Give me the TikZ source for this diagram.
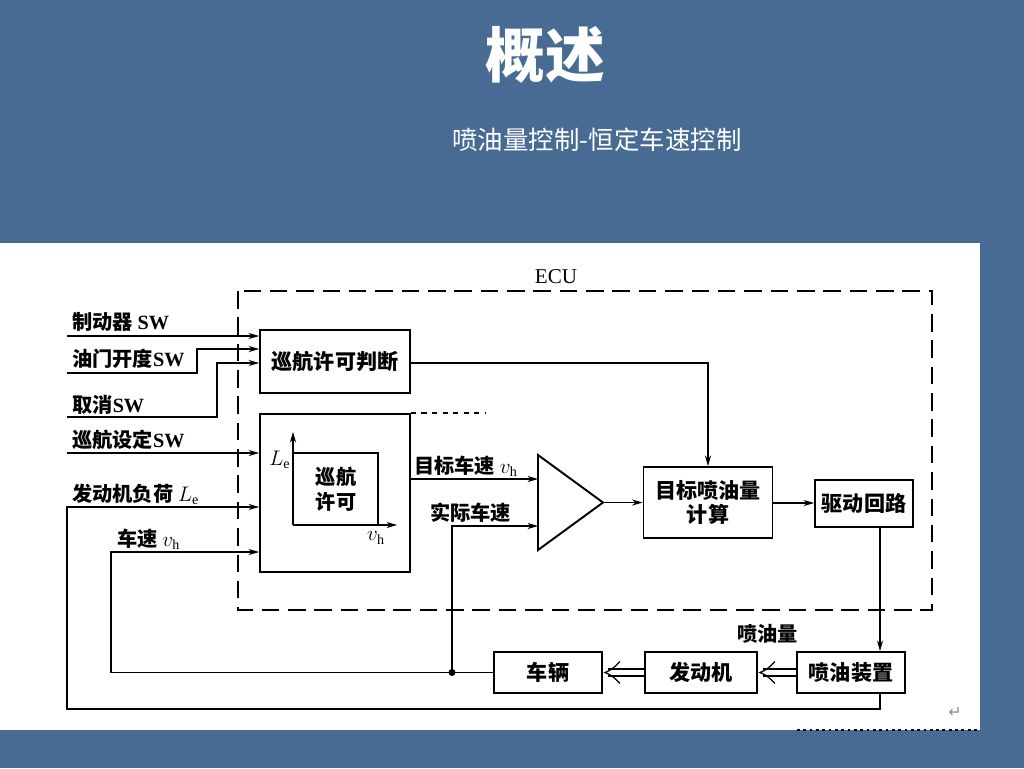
\documentclass[tikz,border=0pt]{standalone}
\usepackage{fontspec}
\setmainfont{Noto Sans CJK SC}
\newfontfamily\lat{Liberation Serif}
\newfontfamily\symf{DejaVu Sans}
\usetikzlibrary{arrows.meta,positioning}
\definecolor{slide}{RGB}{72,107,148}
% upright roman subscript for the signal names
\newcommand\lsub[1]{\hbox{\lat\mdseries\fontsize{8}{9}\selectfont #1}}

\begin{document}
\begin{tikzpicture}[%
    x=0.02cm, y=-0.02cm,        % one unit is one pixel of the slide
    >={Stealth[length=6pt,width=3.5pt]},
    every node/.style={inner sep=0pt},
    ]
% -------------------------------------------------
% A few box styles
\tikzset{
  node font=\fontsize{12}{14}\selectfont\bfseries,
  base/.style={draw, line width=1.1pt, align=center},
  proc/.style={base, rectangle, minimum width=3cm},
  % input and signal labels
  lbl/.style={anchor=west, node font=\fontsize{11.5}{13}\selectfont\bfseries},
  % -------------------------------------------------
  % Connector line styles
  norm/.style={->, draw, line width=0.6pt},
  wire/.style={draw, line width=0.6pt},
  dbl/.style={draw, double, double distance=3.4pt, line width=0.6pt, shorten >=3pt},
  % open head of the double arrows
  chev/.pic={\draw [line width=0.7pt] (17,-11) .. controls (9,-3) .. (2,0) .. controls (9,3) .. (17,11);},
  ecu/.style={draw, dash pattern=on 10pt off 5pt, line width=0.9pt},
}
% -------------------------------------------------
% Slide background and title
\useasboundingbox (0,0) rectangle (1024,768);
\fill [slide] (0,0) rectangle (1024,768);
\fill [white] (0,243) rectangle (980,730);
\node [text=white, node font=\fontsize{34}{38}\selectfont\bfseries] (ttl) at (545,55) {概述};
\node [text=white, node font=\fontsize{14.5}{16}\selectfont] (sub) at (597,140) {喷油量控制-恒定车速控制};
% -------------------------------------------------
% ECU frame
\path [ecu] (238,291) rectangle (932,610);
\node [node font=\fontsize{12}{14}\selectfont\lat] (ecu) at (556,277) {ECU};
% -------------------------------------------------
% Start by placing the boxes
\node [proc, minimum height=1.26cm] (jud) at (335,361.5) {巡航许可判断};
\node [proc, minimum height=3.16cm] (perm) at (335,493) {};
\node [base, minimum width=2.58cm, minimum height=1.42cm] (tgt) at (708,502.5) {目标喷油量\\计算};
\node [base, minimum width=1.96cm, minimum height=0.94cm] (drv) at (864,503.5) {驱动回路};
\node [base, minimum width=2.16cm, minimum height=0.82cm] (inj) at (851,672.5) {喷油装置};
\node [base, minimum width=2.24cm, minimum height=0.82cm] (eng) at (701,672.5) {发动机};
\node [base, minimum width=2.16cm, minimum height=0.82cm] (veh) at (548,672.5) {车辆};
% comparator
\coordinate (cmpA) at (538,455);
\coordinate (cmpB) at (538,550);
\coordinate (cmpT) at (603,502.5);
\draw [line width=1.1pt] (cmpA) -- (cmpT) -- (cmpB) -- cycle;
% -------------------------------------------------
% Inside the cruise permit box
\coordinate (org) at (293,525);
\draw [norm] (org) -- (293,432);
\draw [norm] (org) -- (397,525);
\draw [wire] (293,453) -- (378,453) -- (378,525);
\node (ax1) at (280,460) {$L_{\lsub{e}}$};
\node (ax2) at (376,538) {$v_{\lsub{h}}$};
\node [align=center, node font=\fontsize{11.5}{14}\selectfont\bfseries] (txt) at (336,489) {巡航\\许可};
\draw [dashed, line width=0.7pt] (perm.north east) -- ++(75,0);
% -------------------------------------------------
% Inputs on the left
\node [lbl] (l1) at (72,322) {制动器 {\lat SW}};
\node [lbl] (l2) at (72,359) {油门开度{\lat SW}};
\node [lbl] (l3) at (72,405) {取消{\lat SW}};
\node [lbl] (l4) at (72,440) {巡航设定{\lat SW}};
\node [lbl] (l5) at (72,494) {发动机负荷 $L_{\lsub{e}}$};
\node [lbl] (l6) at (117,539) {车速 $v_{\lsub{h}}$};
\coordinate (i1) at (67,336);
\coordinate (i2) at (67,373);
\coordinate (i3) at (67,417);
\coordinate (i4) at (67,453);
\draw [norm] (i1) -- (i1 -| jud.west);
\draw [norm] (i2) -- (197,373) -- (197,349) -- (jud.west |- 0,349);
\draw [norm] (i3) -- (217,417) -- (217,363) -- (jud.west |- 0,363);
\draw [norm] (i4) -- (i4 -| perm.west);
% -------------------------------------------------
% Signals through the ECU
\node [lbl] (s1) at (414,466) {目标车速 $v_{\lsub{h}}$};
\node [lbl] (s2) at (430,513) {实际车速};
\draw [norm] (perm.east |- 0,479) -- (cmpA |- 0,479);
\draw [norm] (cmpT) -- (tgt.west |- cmpT);
\draw [norm] (jud.east |- 0,363) -- (708,363) -- (tgt.north);
\draw [norm] (tgt.east |- 0,503) -- (drv.west |- 0,503);
\draw [norm] (drv.south -| 880,0) -- (inj.north -| 880,0);
\node [lbl] (s3) at (737,634) {喷油量};
% -------------------------------------------------
% Power train
\draw [dbl] (inj.west) -- (eng.east);
\draw [dbl] (eng.west) -- (veh.east);
\pic at (eng.east) {chev};
\pic at (veh.east) {chev};
% -------------------------------------------------
% Feedback loops
\coordinate (fb) at (452,672.5);
\fill (fb) circle (3.5);
\draw [norm] (veh.west) -- (111,672.5) -- (111,552) -- (perm.west |- 0,552);
\draw [norm] (fb) -- (452,526) -- (cmpA |- 0,526);
\draw [norm] (inj.south -| 880,0) -- (880,709) -- (67,709) -- (67,507) -- (perm.west |- 0,507);
% -------------------------------------------------
% Slide leftovers
\draw [dotted, line width=1.6pt] (797,730) -- (980,730);
\node [text=black!45, node font=\fontsize{9}{10}\selectfont\symf] (ret) at (955,713) {↵};
\end{tikzpicture}
\end{document}
